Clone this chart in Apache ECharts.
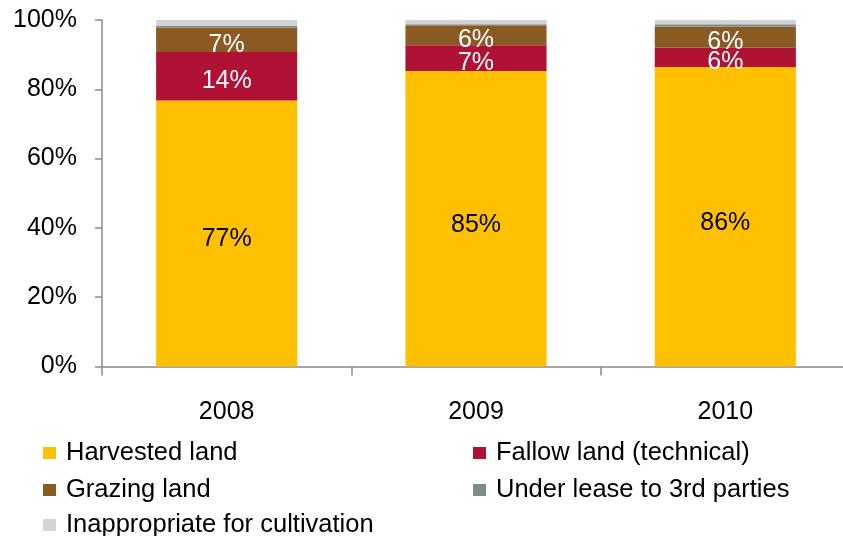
<!DOCTYPE html>
<html>
<head>
<meta charset="utf-8">
<script src="https://cdn.jsdelivr.net/npm/echarts@6/dist/echarts.min.js"></script>
<style>
html,body{margin:0;padding:0;background:#fff;}
#chart{width:843px;height:536px;}
</style>
</head>
<body>
<div id="chart"></div>
<script>
const categories = ['2008', '2009', '2010'];
const harvested = [76.8, 85.3, 86.4];
const fallow = [14.0, 7.4, 5.6];
const grazing = [7.0, 5.8, 6.1];
const underLease = [0.5, 0.3, 0.7];
const inappropriate = [1.7, 1.2, 1.2];
const seriesNames = ['Harvested land', 'Fallow land (technical)', 'Grazing land', 'Under lease to 3rd parties', 'Inappropriate for cultivation'];
const yMin = 0, yMax = 100, yStep = 20;

const FONT = '"Liberation Sans", Arial, sans-serif';
const colors = ['#FFC000', '#B01236', '#8B5A23', '#7F8B8B', '#D0D4D5'];
const dataSets = [harvested, fallow, grazing, underLease, inappropriate];
const labelColors = ['#000000', '#ffffff', '#ffffff', null, null];
const labelShift = [6, 5, 5, 0, 0];

const series = dataSets.map((d, i) => ({
  name: seriesNames[i],
  type: 'bar',
  stack: 'total',
  data: d,
  barWidth: '56.6%',
  itemStyle: { color: colors[i] },
  label: labelColors[i] ? {
    show: true,
    position: 'inside',
    offset: [0, labelShift[i]],
    color: labelColors[i],
    fontFamily: FONT,
    fontSize: 25,
    formatter: p => Math.round(p.value) + '%'
  } : { show: false }
}));

const legendPos = [[38, 435], [468, 435], [38, 472], [468, 472], [38, 507]];
const legends = seriesNames.map((n, i) => ({
  data: [n],
  left: legendPos[i][0],
  top: legendPos[i][1],
  icon: 'rect',
  itemWidth: 13,
  itemHeight: 12,
  selectedMode: false,
  textStyle: { fontFamily: FONT, fontSize: 25.5, color: '#000', padding: [0, 0, 0, 5] }
}));

const chart = echarts.init(document.getElementById('chart'), null, { renderer: 'canvas' });
chart.setOption({
  animation: false,
  backgroundColor: '#fff',
  grid: { left: 102, width: 748, top: 20, height: 346.5, containLabel: false, outerBoundsMode: 'none' },
  legend: legends,
  xAxis: {
    type: 'category',
    data: categories,
    axisLine: { lineStyle: { color: '#898989', width: 1.5 } },
    axisTick: { show: true, length: 9, lineStyle: { color: '#898989', width: 1.5 } },
    axisLabel: { color: '#000', fontFamily: FONT, fontSize: 25, margin: 33 }
  },
  yAxis: {
    type: 'value',
    min: yMin, max: yMax, interval: yStep,
    splitLine: { show: false },
    axisLine: { show: true, lineStyle: { color: '#898989', width: 1.5 } },
    axisTick: { show: true, length: 7, lineStyle: { color: '#898989', width: 1.5 } },
    axisLabel: { color: '#000', fontFamily: FONT, fontSize: 25, margin: 25, formatter: v => v + '%' }
  },
  series: series
});
</script>
</body>
</html>
